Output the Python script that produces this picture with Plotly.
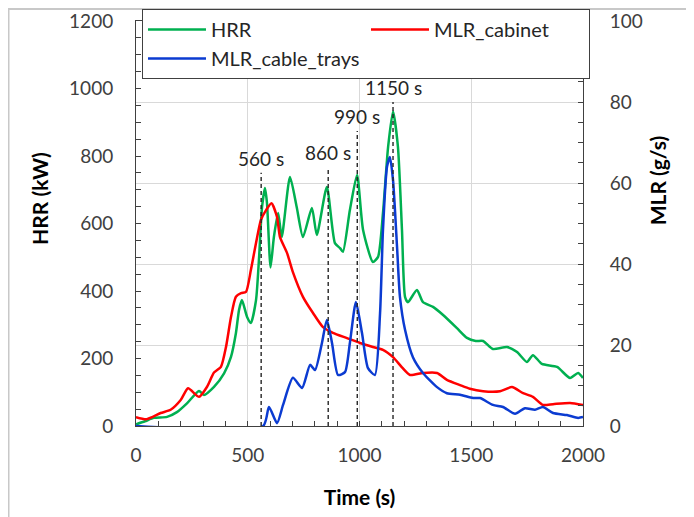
import plotly.graph_objects as go

# HRR (kW) vs time (s)
hrr_t = [0, 40, 80, 139, 183, 228, 282, 304, 349, 394, 425, 447, 461, 474, 497, 514, 537, 550, 564,
         577, 586, 602, 617, 636, 652, 689, 719, 747, 787, 809, 854, 890, 913, 926, 957, 989,
         1016, 1060, 1083, 1105, 1128, 1150, 1172, 1190, 1204, 1217, 1257, 1284, 1329, 1374,
         1436, 1481, 1520, 1553, 1597, 1660, 1705, 1749, 1776, 1816, 1884, 1942, 1978, 2000]
hrr = [5, 14, 24, 27, 41, 67, 104, 92, 116, 156, 205, 275, 344, 373, 323, 305, 373, 492, 649,
       705, 661, 470, 560, 631, 560, 738, 649, 560, 646, 566, 708, 542, 527, 516, 640, 744,
       581, 486, 501, 631, 827, 932, 827, 581, 382, 367, 403, 367, 353, 329,
       290, 261, 252, 252, 228, 234, 219, 190, 210, 184, 175, 142, 157, 142]

# MLR of the cabinet (g/s)
cab_t = [0, 48, 110, 155, 200, 233, 282, 318, 349, 380, 403, 425, 447, 470, 492, 514, 537, 559,
         582, 606, 631, 644, 676, 702, 747, 792, 837, 881, 944, 1002, 1060, 1105, 1150, 1190,
         1226, 1284, 1347, 1391, 1450, 1494, 1553, 1629, 1682, 1732, 1776, 1821, 1866, 1942, 2000]
cab = [2.2, 1.7, 3.2, 4.0, 6.4, 9.3, 7.2, 9.7, 13.2, 14.6, 19.6, 26.9, 31.9, 32.8, 33.1, 38.5, 45.2, 50.9,
       53.3, 55.0, 51.6, 46.7, 42.7, 38.0, 31.9, 27.9, 24.4, 23.0, 21.7, 20.5, 19.5, 18.8, 17.0, 14.5,
       12.6, 13.1, 13.1, 11.4, 10.1, 9.2, 8.6, 8.6, 9.6, 8.1, 7.2, 5.2, 5.4, 5.7, 5.2]

# MLR of the cable trays (g/s)
tray_t = [0, 569, 595, 631, 658, 702, 743, 779, 801, 832, 854, 877, 904, 935, 957, 984, 1011, 1038,
          1069, 1092, 1105, 1123, 1136, 1150, 1168, 1181, 1204, 1239, 1284, 1347, 1391, 1450, 1508,
          1539, 1597, 1642, 1696, 1740, 1785, 1821, 1866, 1928, 1978, 2000]
tray = [0, 0, 4.7, 0.7, 5.2, 11.9, 9.4, 15.1, 13.8, 20.5, 26.2, 20.5, 12.6, 13.3, 20.5, 30.6, 23.0, 14.3,
        12.6, 27.9, 48.4, 64.0, 66.4, 60.7, 44.2, 31.9, 23.7, 17.0, 13.1, 9.6, 8.1, 7.7, 6.9,
        6.9, 5.2, 4.7, 3.0, 4.4, 4.0, 4.7, 3.2, 2.7, 2.0, 2.2]

# marked peaks: time (s) and top of the dashed line (kW)
peak_t = [560, 860, 990, 1150]
peak_top = [750, 767, 874, 960]

FONT = "Lato, Carlito, Calibri, sans-serif"
AX = "#404040"

fig = go.Figure()
fig.add_trace(go.Scatter(x=hrr_t, y=hrr, name="HRR", mode="lines",
                         line=dict(color="#00b050", width=2.5, shape="spline", smoothing=0.6)))
fig.add_trace(go.Scatter(x=cab_t, y=cab, name="MLR_cabinet", mode="lines", yaxis="y2",
                         line=dict(color="#ff0000", width=2.5, shape="spline", smoothing=0.6)))
fig.add_trace(go.Scatter(x=tray_t, y=tray, name="MLR_cable_trays", mode="lines", yaxis="y2",
                         line=dict(color="#0b3bd1", width=2.5, shape="spline", smoothing=0.6)))

for t, top in zip(peak_t, peak_top):
    fig.add_shape(type="line", xref="x", yref="y", x0=t, x1=t, y0=0, y1=top,
                  line=dict(color="#262626", width=1.4, dash="4px,3px"))
    fig.add_annotation(x=t, y=top, xref="x", yref="y", text=f"{t} s", showarrow=False,
                       yanchor="bottom", yshift=1, font=dict(size=19, color="#262626"))

# axis titles
fig.add_annotation(xref="paper", yref="paper", x=-0.215, y=0.563, text="<b>HRR (kW)</b>",
                   xanchor="center", yanchor="middle",
                   textangle=-90, showarrow=False, font=dict(size=21, color="black"))
fig.add_annotation(xref="paper", yref="paper", x=1.166, y=0.607, text="<b>MLR (g/s)</b>",
                   xanchor="center", yanchor="middle",
                   textangle=-90, showarrow=False, font=dict(size=21, color="black"))

# outer chart border (left and top)
fig.add_shape(type="line", xref="paper", yref="paper", x0=-0.2852, x1=-0.2852, y0=-0.3, y1=1.03,
              line=dict(color="#c8c8c8", width=2))
fig.add_shape(type="line", xref="paper", yref="paper", x0=-0.29, x1=1.235, y0=1.0296, y1=1.0296,
              line=dict(color="#c8c8c8", width=2))

fig.update_layout(
    width=694, height=517,
    margin=dict(l=128, r=119, t=13, b=99, autoexpand=False),
    paper_bgcolor="white", plot_bgcolor="white",
    font=dict(family=FONT, size=19, color=AX),
    showlegend=True,
    legend=dict(orientation="h", x=0.0134, y=1.0296, xanchor="left", yanchor="top",
                bgcolor="white", bordercolor=AX, borderwidth=1,
                font=dict(size=20, color="#262626"),
                entrywidth=150, entrywidthmode="pixels", itemwidth=58, tracegroupgap=0),
    xaxis=dict(range=[0, 2000], dtick=500, showgrid=True, gridcolor="#d9d9d9",
               showline=True, linecolor=AX, mirror=True, zeroline=False,
               ticks="inside", ticklen=5, tickcolor=AX, ticklabelstandoff=12,
               minor=dict(dtick=100, ticks="inside", ticklen=5, tickcolor=AX, showgrid=False),
               title=dict(text="<b>Time (s)</b>", font=dict(size=21, color="black"), standoff=25)),
    yaxis=dict(range=[0, 1200], dtick=200, showgrid=False, showline=True, linecolor=AX,
               zeroline=False, ticks="inside", ticklen=5, tickcolor=AX, ticklabelstandoff=18,
               minor=dict(dtick=50, ticks="inside", ticklen=5, tickcolor=AX)),
    yaxis2=dict(range=[0, 100], dtick=20, overlaying="y", side="right", showgrid=True,
                gridcolor="#d9d9d9", showline=True, linecolor=AX, zeroline=False,
                ticks="inside", ticklen=5, tickcolor=AX, ticklabelstandoff=22,
                minor=dict(dtick=5, ticks="inside", ticklen=5, tickcolor=AX)),
)

fig.write_html("out.html")
